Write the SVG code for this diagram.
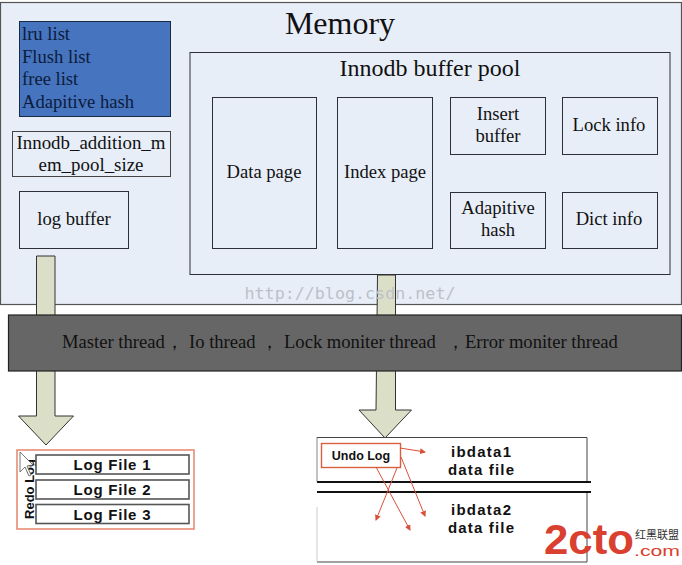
<svg xmlns="http://www.w3.org/2000/svg" width="682" height="565" viewBox="0 0 682 565">
<style>
.s{font-family:"Liberation Serif","Times New Roman",serif;font-size:18.6px;fill:#111}
.m{text-anchor:middle}
.b{fill:#e8eef8;stroke:#2a2f38;stroke-width:1}
.a{fill:#dcdfc8;stroke:#333;stroke-width:1}
.f{fill:#fff;stroke:#555;stroke-width:1.6}
.h{font-family:"Liberation Sans",Arial,sans-serif;font-weight:bold;fill:#111;text-anchor:middle}
.l{font-size:15px}
.d{font-size:15px}
.r{stroke:#d9503a;stroke-width:1;fill:none;marker-end:url(#ah)}
.q{fill:#0c1c3c}
</style>
<defs><marker id="ah" markerWidth="6" markerHeight="6" refX="5" refY="3" orient="auto"><path d="M0,0L6,3L0,6z" fill="#d9503a"/></marker></defs>
<rect width="682" height="565" fill="#fff"/>
<g id="memory"><rect x="0.5" y="2.5" width="681" height="302" fill="#e8eef8" stroke="#555" stroke-width="1.2"/>
<text x="340" y="34" class="s m" style="font-size:32px">Memory</text></g>
<g id="lists"><rect x="19.5" y="21.5" width="151" height="95" fill="#4674bf" stroke="#1a2a44"/>
<text class="s q" x="22" y="40">lru list</text><text class="s q" x="22" y="62.500">Flush list</text><text class="s q" x="22" y="85">free list</text><text class="s q" x="22" y="107.500">Adapitive hash</text></g>
<g id="addition"><rect x="12.500" y="131.500" width="158" height="45" fill="#e8eef8" stroke="#444"/>
<text class="s m" x="91" y="149" style="font-size:18.900px">Innodb_addition_m</text><text class="s m" x="91" y="171" style="font-size:18.900px">em_pool_size</text></g>
<g id="logbuffer"><rect x="19.500" y="191.500" width="109" height="57" class="b"/><text class="s m" x="74" y="225">log buffer</text></g>
<g id="pool"><rect x="190" y="52.500" width="480" height="222" class="b" stroke="#555"/><text x="430" y="76" class="s m" style="font-size:24px">Innodb buffer pool</text></g>
<g id="datapage"><rect x="212.500" y="97.500" width="104" height="151" class="b"/><text class="s m" x="264" y="178">Data page</text></g>
<g id="indexpage"><rect x="337.500" y="97.500" width="95" height="151" class="b"/><text class="s m" x="385" y="178">Index page</text></g>
<g id="insert"><rect x="450.500" y="97.500" width="95" height="57" class="b"/><text class="s m" x="498" y="120">Insert</text><text class="s m" x="498" y="142">buffer</text></g>
<g id="lock"><rect x="562.500" y="97.500" width="95" height="57" class="b"/><text class="s m" x="609" y="131">Lock info</text></g>
<g id="adaptive"><rect x="450.500" y="192.500" width="95" height="56" class="b"/><text class="s m" x="498" y="214">Adapitive</text><text class="s m" x="498" y="236">hash</text></g>
<g id="dict"><rect x="562.500" y="192.500" width="95" height="56" class="b"/><text class="s m" x="609" y="225">Dict info</text></g>
<g id="connectors">
<path class="a" d="M36.500,256H55V416H73.500L46,445L18.500,416H36.500Z"/>
<path class="a" d="M377.500,275H395.500V410H411.500L385,438L359,410H376Z"/>
</g>
<text x="350" y="299" text-anchor="middle" style="font-family:'DejaVu Sans Mono','Liberation Mono',monospace;font-size:16.700px;fill:#bcc0c8">http://blog.csdn.net/</text>
<g id="threads"><rect x="8.500" y="315" width="673" height="56" fill="#666" stroke="#222" stroke-width="1.200"/>
<text class="s" x="62" y="348">Master thread，</text><text class="s" x="189" y="348">Io thread  ，</text><text class="s" x="284" y="348">Lock moniter thread</text><text class="s" x="446" y="348">，</text><text class="s" x="465" y="348">Error moniter thread</text></g>
<g id="redolog"><rect x="17" y="450" width="177" height="79" fill="#fff" stroke="#e98c76" stroke-width="1.600"/>
<text class="h" transform="translate(34 489) rotate(-90)" style="font-size:13px">Redo Log</text>
<path d="M20,452V472L25,467L29,476L31,475L27,466L33,465Z" fill="#fff" stroke="#555" stroke-width="0.800"/></g>
<g id="log1"><rect x="36" y="455" width="153" height="19" class="f"/><text class="h l" x="112" y="470" textLength="77" lengthAdjust="spacing">Log File 1</text></g>
<g id="log2"><rect x="36" y="480" width="153" height="19" class="f"/><text class="h l" x="112" y="495" textLength="77" lengthAdjust="spacing">Log File 2</text></g>
<g id="log3"><rect x="36" y="504.500" width="153" height="19" class="f"/><text class="h l" x="112" y="519.500" textLength="77" lengthAdjust="spacing">Log File 3</text></g>
<g id="ibdata">
<path d="M317,437.500H587V482M317,562H587V492" fill="none" stroke="#444" stroke-width="1"/>
<path d="M317,482H591M317,492H591" stroke="#111" stroke-width="2" fill="none"/>
<path d="M317,437V482" stroke="#666" stroke-width="0.800" fill="none"/>
<path d="M317,507V562" stroke="#aaa" stroke-width="0.600" fill="none"/>
<text class="h d" x="481" y="457" textLength="60" lengthAdjust="spacing">ibdata1</text><text class="h d" x="481" y="475" textLength="66" lengthAdjust="spacing">data file</text>
<text class="h d" x="481" y="515" textLength="60" lengthAdjust="spacing">ibdata2</text><text class="h d" x="481" y="533" textLength="66" lengthAdjust="spacing">data file</text></g>
<g id="undolog"><rect x="321.500" y="443.500" width="79" height="24" fill="#fff" stroke="#d9603f" stroke-width="1.400"/><text class="h" x="361" y="460" style="font-size:12.500px">Undo Log</text></g>
<g id="undoarrows">
<path class="r" d="M400,448L425,452"/>
<path class="r" d="M397,468L376,520"/>
<path class="r" d="M376,467L410,530"/>
<path class="r" d="M401,457L425,516"/>
</g>
<g id="watermark">
<text x="544" y="554" style="font-family:'Liberation Sans',Arial,sans-serif;font-weight:bold;font-size:43px;fill:#d9402f" textLength="90" lengthAdjust="spacingAndGlyphs">2cto</text>
<text x="635" y="539" style="font-family:'Noto Sans CJK SC',sans-serif;font-size:11px;fill:#333">红黑联盟</text>
<text x="634" y="556" style="font-family:'Liberation Sans',Arial,sans-serif;font-size:15px;fill:#d9402f" textLength="46" lengthAdjust="spacingAndGlyphs">.com</text>
</g>
</svg>
